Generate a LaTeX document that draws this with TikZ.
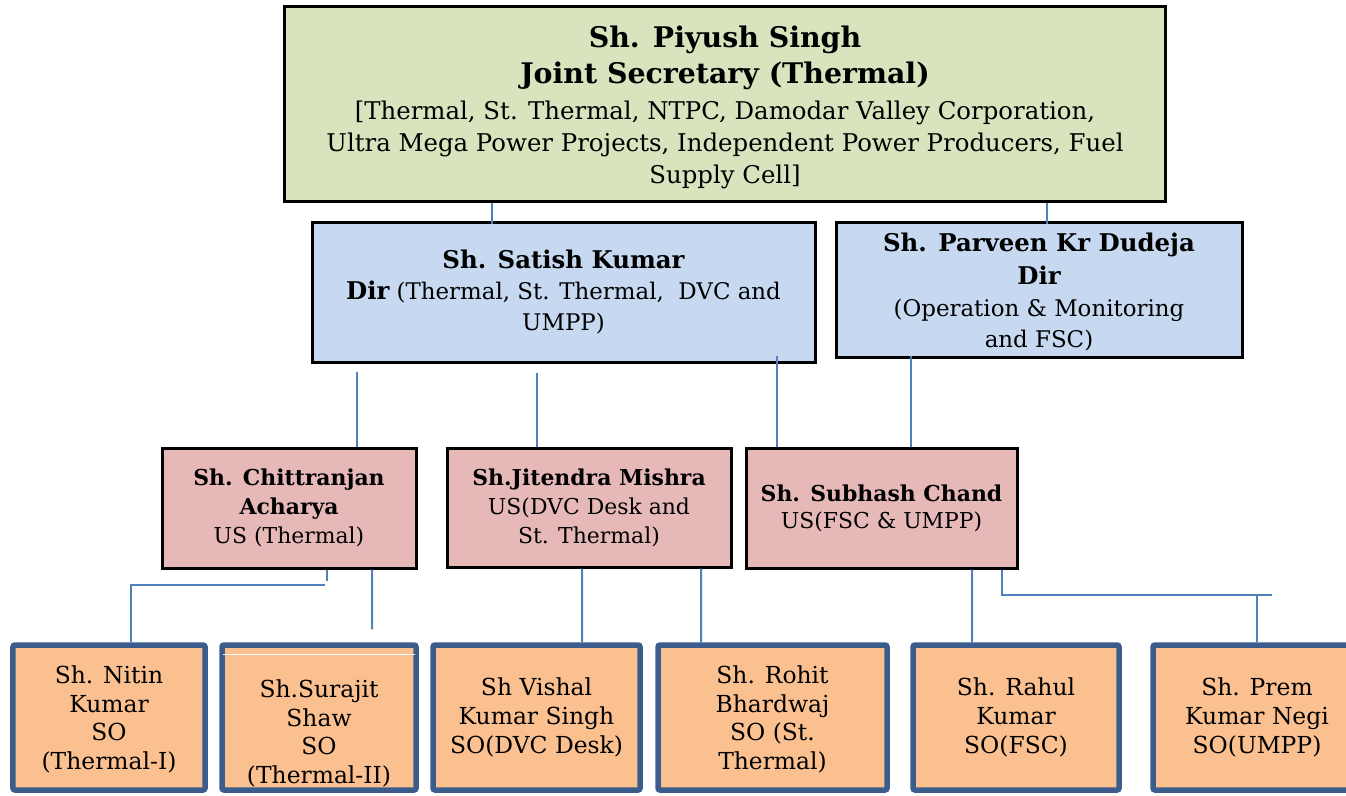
\documentclass[tikz,border=0pt]{standalone}
\usepackage{fontspec}
\setmainfont{DejaVu Serif}
\definecolor{jsgreen}{HTML}{D7E4BD}
\definecolor{dirblue}{HTML}{C6D9F1}
\definecolor{uspink}{HTML}{E6B9B8}
\definecolor{soorange}{HTML}{FAC090}
\definecolor{connblue}{HTML}{4F81BD}
\definecolor{soborder}{HTML}{3C5D8C}
\begin{document}
\begin{tikzpicture}[x=1bp,y=-1bp,
  conn/.style={draw=connblue,line width=2bp},
  basebox/.style={draw=black,line width=3bp,inner sep=0pt,align=center},
  jsbox/.style={basebox,fill=jsgreen,font=\fontsize{24.5}{32}\selectfont},
  dirbox/.style={basebox,fill=dirblue,font=\fontsize{23}{31}\selectfont},
  usbox/.style={basebox,fill=uspink,font=\fontsize{22}{29}\selectfont},
  sobox/.style={draw=soborder,line width=5.5bp,rounded corners=2bp,fill=soorange,inner sep=0pt,align=center,minimum height=145bp,font=\fontsize{23.5}{28.7}\selectfont}
]
\useasboundingbox (0,0) rectangle (1346,795);
\clip (0,0) rectangle (1346,795);

% Joint Secretary
\node[jsbox,minimum width=880bp,minimum height=194bp] (js) at (725,104)
 {{\bfseries\fontsize{28.5}{37}\selectfont\rule{0pt}{28bp}Sh. Piyush Singh}\\[5bp]
  {\bfseries\fontsize{28.5}{37}\selectfont Joint Secretary (Thermal)}\\[4bp]
  {[}Thermal, St. Thermal, NTPC, Damodar Valley Corporation,\\
  Ultra Mega Power Projects, Independent Power Producers, Fuel\\
  Supply Cell{]}};

% Directors
\node[dirbox,minimum width=503bp,minimum height=140bp] (sk) at (563.5,292)
 {{\bfseries\fontsize{24.5}{31}\selectfont Sh. Satish Kumar}\\
  {\bfseries\fontsize{24.5}{31}\selectfont Dir} (Thermal, St. Thermal,\ \ DVC and\\
  UMPP)};
\node[dirbox,minimum width=406bp,minimum height=135bp] (pd) at (1039,289.5)
 {{\bfseries\fontsize{24.5}{31}\selectfont\rule{0pt}{24bp}Sh. Parveen Kr Dudeja}\\[2bp]
  {\bfseries\fontsize{24.5}{31}\selectfont Dir}\\[1bp]
  (Operation \& Monitoring\\
  and FSC)};

% Under Secretaries
\node[usbox,minimum width=254bp,minimum height=120bp] (ca) at (289,508)
 {{\bfseries Sh. Chittranjan}\\ {\bfseries Acharya}\\ US (Thermal)};
\node[usbox,minimum width=284bp,minimum height=119bp] (jm) at (589,507.5)
 {{\bfseries Sh.Jitendra Mishra}\\ US(DVC Desk and\\ St. Thermal)};
\node[usbox,minimum width=271bp,minimum height=120bp] (sc) at (881.5,508)
 {{\bfseries Sh. Subhash Chand}\\[-2bp] US(FSC \& UMPP)};

% Section Officers
\node[sobox,minimum width=192bp] (so1) at (109,717.5) {\rule{0pt}{22bp}Sh. Nitin\\ Kumar\\ SO\\ (Thermal-I)};
\node[sobox,minimum width=194bp] (so2) at (319,717.5) {\rule{0pt}{50bp}Sh.Surajit\\ Shaw\\ SO\\ (Thermal-II)};
\node[sobox,minimum width=207bp] (so3) at (536.5,717.5) {Sh Vishal\\ Kumar Singh\\ SO(DVC Desk)};
\node[sobox,minimum width=229bp] (so4) at (772.5,717.5) {\rule{0pt}{22bp}Sh. Rohit\\ Bhardwaj\\ SO (St.\\ Thermal)};
\node[sobox,minimum width=206bp] (so5) at (1016,717.5) {Sh. Rahul\\ Kumar\\ SO(FSC)};
\node[sobox,minimum width=208bp] (so6) at (1257,717.5) {Sh. Prem\\ Kumar Negi\\ SO(UMPP)};
\draw[white,line width=1bp] ([shift={(4,12)}]so2.north west) -- ([shift={(-4,12)}]so2.north east);

% Connectors
\draw[conn] ([xshift=-233bp]js.south) -- ([xshift=-233bp,yshift=-21bp]js.south);
\draw[conn] ([xshift=322bp]js.south) -- ([xshift=322bp,yshift=-21bp]js.south);

\draw[conn] ([xshift=68bp,yshift=75bp]ca.north) -- ([xshift=68bp]ca.north);
\draw[conn] ([xshift=-52bp,yshift=74bp]jm.north) -- ([xshift=-52bp]jm.north);
\draw[conn] ([xshift=-104.5bp,yshift=91bp]sc.north) -- ([xshift=-104.5bp]sc.north);
\draw[conn] ([xshift=29.5bp,yshift=91bp]sc.north) -- ([xshift=29.5bp]sc.north);

\draw[conn] ([xshift=38bp]ca.south) -- ([xshift=38bp,yshift=-11bp]ca.south);
\draw[conn] ([xshift=36bp,yshift=-15bp]ca.south) -| ([xshift=22bp]so1.north);
\draw[conn] ([xshift=83bp]ca.south) -- ([xshift=53bp,yshift=13bp]so2.north);
\draw[conn] ([xshift=-7bp]jm.south) -- ([xshift=45.5bp]so3.north);
\draw[conn] ([xshift=112bp]jm.south) -- ([xshift=-71.5bp]so4.north);
\draw[conn] ([xshift=90.5bp]sc.south) -- ([xshift=-44bp]so5.north);
\draw[conn] ([xshift=120.5bp]sc.south) |- ([xshift=15bp,yshift=47bp]so6.north);
\draw[conn] ([yshift=47bp]so6.north) -- (so6.north);
\end{tikzpicture}
\end{document}
